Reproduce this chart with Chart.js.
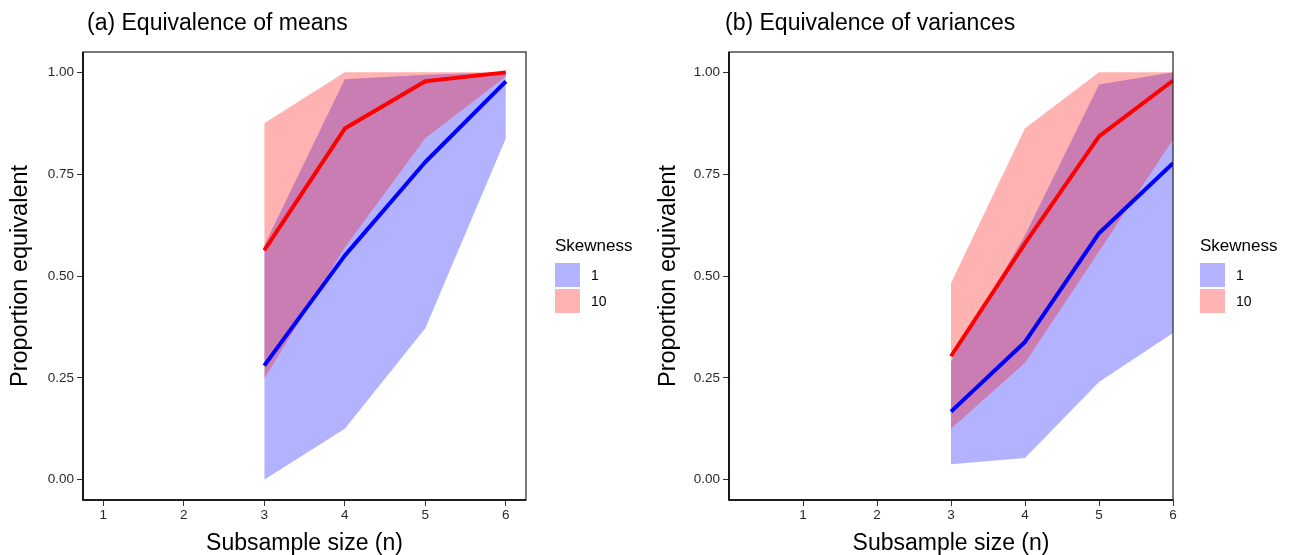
<!DOCTYPE html>
<html>
<head>
<meta charset="utf-8">
<script src="https://cdn.jsdelivr.net/npm/chart.js@4.4.1/dist/chart.umd.min.js"></script>
<style>
  body { margin: 0; background: #fff; font-family: "Liberation Sans", Arial, sans-serif; }
  #wrap { position: relative; width: 1289px; height: 555px; overflow: hidden; }
  canvas { position: absolute; top: 0; }
  .ptitle { position: absolute; top: 11px; font-size: 23px; line-height: 22px; color: #000; white-space: nowrap; }
  .lgtitle { position: absolute; top: 237px; font-size: 17px; line-height: 17px; color: #000; }
  .key { position: absolute; width: 25px; height: 24px; }
  .klab { position: absolute; font-size: 14px; line-height: 14px; color: #000; }
</style>
</head>
<body>
<div id="wrap">
  <canvas id="chartMeans" width="644" height="555" style="left:0"></canvas>
  <canvas id="chartVars" width="645" height="555" style="left:644px"></canvas>

  <div class="ptitle" style="left:87px">(a) Equivalence of means</div>
  <div class="ptitle" style="left:725px">(b) Equivalence of variances</div>

  <div class="lgtitle" style="left:555px">Skewness</div>
  <div class="key" style="left:555px;top:263px;background:#b3b3ff"></div>
  <div class="key" style="left:555px;top:289px;background:#ffb3b3"></div>
  <div class="klab" style="left:591px;top:268px">1</div>
  <div class="klab" style="left:591px;top:294px">10</div>

  <div class="lgtitle" style="left:1200px">Skewness</div>
  <div class="key" style="left:1200px;top:263px;background:#b3b3ff"></div>
  <div class="key" style="left:1200px;top:289px;background:#ffb3b3"></div>
  <div class="klab" style="left:1236px;top:268px">1</div>
  <div class="klab" style="left:1236px;top:294px">10</div>
</div>

<script>
  // Subsample size
  const xN = [3, 4, 5, 6];
  const xTicks = [1, 2, 3, 4, 5, 6];
  const xTickLabels = ['1', '2', '3', '4', '5', '6'];
  const yTicks = [0, 0.25, 0.5, 0.75, 1];
  const yTickLabels = ['0.00', '0.25', '0.50', '0.75', '1.00'];

  // (a) means: line + ribbon, skewness 1 and 10
  const meanSkew1   = [0.28, 0.55, 0.78, 0.978];
  const meanSkew1Lo = [0.00, 0.125, 0.372, 0.838];
  const meanSkew1Hi = [0.575, 0.983, 0.994, 1.0];
  const meanSkew10   = [0.563, 0.862, 0.978, 1.0];
  const meanSkew10Lo = [0.248, 0.57, 0.838, 0.99];
  const meanSkew10Hi = [0.875, 1.0, 1.0, 1.0];

  // (b) variances
  const varSkew1   = [0.167, 0.338, 0.605, 0.777];
  const varSkew1Lo = [0.038, 0.053, 0.24, 0.36];
  const varSkew1Hi = [0.29, 0.60, 0.97, 1.0];
  const varSkew10   = [0.303, 0.58, 0.843, 0.98];
  const varSkew10Lo = [0.125, 0.287, 0.56, 0.835];
  const varSkew10Hi = [0.483, 0.863, 1.0, 1.0];

  const FONT = '"Liberation Sans", Arial, sans-serif';

  // moldura do painel
  const borderPlugin = {
    id: 'panelBorder',
    afterDatasetsDraw(chart) {
      const a = chart.chartArea, ctx = chart.ctx;
      ctx.save();
      ctx.strokeStyle = '#222';
      ctx.lineWidth = 1.2;
      ctx.strokeRect(a.left, a.top, a.right - a.left, a.bottom - a.top);
      ctx.strokeStyle = '#000';
      ctx.lineWidth = 1.6;
      ctx.beginPath();
      ctx.moveTo(a.left, a.top);
      ctx.lineTo(a.left, a.bottom);
      ctx.lineTo(a.right, a.bottom);
      ctx.stroke();
      ctx.restore();
    }
  };

  function pts(arr) {
    return xN.map((x, i) => ({ x: x, y: arr[i] }));
  }

  function band(arr, fill, color, order) {
    return {
      data: pts(arr), borderWidth: 0, borderColor: 'transparent', pointRadius: 0,
      fill: fill, backgroundColor: color, order: order
    };
  }

  function line(arr, color, order) {
    return {
      data: pts(arr), borderWidth: 4, borderColor: color, pointRadius: 0,
      fill: false, order: order, borderJoinStyle: 'round'
    };
  }

  function buildChart(id, xMin, xMax, yWidth, yTitlePad, rightPad, s) {
    return new Chart(document.getElementById(id), {
      type: 'line',
      data: {
        datasets: [
          band(s.lo1, false, 'transparent', 6),
          band(s.hi1, '-1', 'rgba(0,0,255,0.3)', 5),
          band(s.lo10, false, 'transparent', 4),
          band(s.hi10, '-1', 'rgba(255,0,0,0.3)', 3),
          line(s.m1, '#0000ff', 2),
          line(s.m10, '#ff0000', 1)
        ]
      },
      options: {
        responsive: false,
        animation: false,
        devicePixelRatio: 1,
        layout: { padding: { top: 52, right: rightPad, bottom: 0, left: 0 } },
        plugins: { legend: { display: false }, tooltip: { enabled: false } },
        elements: { line: { tension: 0 } },
        scales: {
          x: {
            type: 'linear', min: xMin, max: xMax,
            afterBuildTicks: sc => { sc.ticks = xTicks.map(v => ({ value: v })); },
            afterFit: sc => { sc.height = 55; },
            grid: { drawOnChartArea: false, drawTicks: true, tickLength: 6, color: '#333' },
            border: { display: false },
            ticks: {
              color: '#2a2a2a', padding: 1, font: { family: FONT, size: 13.5 },
              callback: (v, i) => xTickLabels[i]
            },
            title: {
              display: true, text: 'Subsample size (n)', color: '#000',
              font: { family: FONT, size: 23, lineHeight: 1 }, padding: { top: 0, bottom: 0 }
            }
          },
          y: {
            type: 'linear', min: -0.05, max: 1.05,
            afterBuildTicks: sc => { sc.ticks = yTicks.map(v => ({ value: v })); },
            afterFit: sc => { sc.width = yWidth; },
            grid: { drawOnChartArea: false, drawTicks: true, tickLength: 6, color: '#333' },
            border: { display: false },
            ticks: {
              color: '#2a2a2a', padding: 3, font: { family: FONT, size: 13.5 },
              callback: (v, i) => yTickLabels[i]
            },
            title: {
              display: true, text: 'Proportion equivalent', color: '#000',
              font: { family: FONT, size: 23.5 }, padding: { top: yTitlePad, bottom: 0 }
            }
          }
        }
      },
      plugins: [borderPlugin]
    });
  }

  buildChart('chartMeans', 0.75, 6.25, 83, 6, 118, {
    lo1: meanSkew1Lo, hi1: meanSkew1Hi, lo10: meanSkew10Lo, hi10: meanSkew10Hi,
    m1: meanSkew1, m10: meanSkew10
  });

  buildChart('chartVars', 0, 6, 85, 10, 116, {
    lo1: varSkew1Lo, hi1: varSkew1Hi, lo10: varSkew10Lo, hi10: varSkew10Hi,
    m1: varSkew1, m10: varSkew10
  });
</script>
</body>
</html>
